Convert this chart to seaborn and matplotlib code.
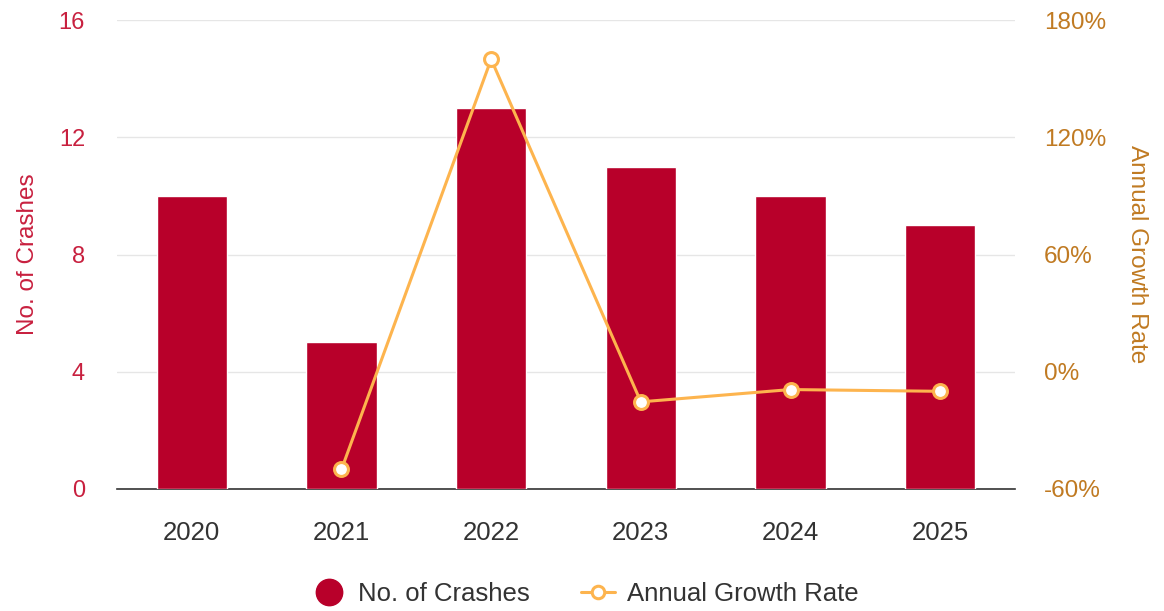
import pandas as pd
import seaborn as sns
import matplotlib.pyplot as plt
from matplotlib.lines import Line2D
from matplotlib.ticker import FuncFormatter

# Chart data
years = ["2020", "2021", "2022", "2023", "2024", "2025"]
crashes = [10, 5, 13, 11, 10, 9]
growth = [None, -50.0, 160.0, -15.4, -9.1, -10.0]

bar_color = "#B8002A"
left_color = "#C8203F"
right_color = "#C07A22"
line_color = "#FDB44E"

df = pd.DataFrame({"year": years, "crashes": crashes, "growth": growth})

sns.set_style("white")
plt.rcParams["font.family"] = ["Liberation Sans", "DejaVu Sans"]

fig = plt.figure(figsize=(11.64, 6.11), dpi=100)
ax = fig.add_axes([0.1005, 0.1997, 0.7715, 0.7673])

sns.barplot(data=df, x="year", y="crashes", color=bar_color, saturation=1,
            width=0.47, ax=ax, zorder=3)
ax.set_ylim(0, 16)
ax.set_yticks([0, 4, 8, 12, 16])
ax.grid(axis="y", color="#E6E6E6", linewidth=1, zorder=0)
ax.set_axisbelow(True)
ax.set_xlabel("")
ax.set_ylabel("No. of Crashes", color=left_color, fontsize=17.5, labelpad=14)
ax.tick_params(axis="y", colors=left_color, labelsize=17, length=0, pad=23)
ax.tick_params(axis="x", colors="#333333", labelsize=18.5, length=0, pad=23)
for s in ["top", "left", "right"]:
    ax.spines[s].set_visible(False)
ax.spines["bottom"].set_color("#333333")
ax.spines["bottom"].set_linewidth(1.2)

ax2 = ax.twinx()
gdf = df.dropna()
sns.lineplot(x=[years.index(y) for y in gdf["year"]], y=gdf["growth"], ax=ax2,
             color=line_color, linewidth=2.2, marker="o", markersize=10,
             markerfacecolor="white", markeredgecolor=line_color,
             markeredgewidth=2.2, zorder=5)
ax2.set_ylim(-60, 180)
ax2.set_yticks([-60, 0, 60, 120, 180])
ax2.yaxis.set_major_formatter(FuncFormatter(lambda v, p: f"{v:.0f}%"))
ax2.set_ylabel("Annual Growth Rate", color=right_color, fontsize=17.5,
               rotation=270, labelpad=30)
ax2.tick_params(axis="y", colors=right_color, labelsize=17.5, length=0, pad=21)
ax2.grid(False)
for s in ["top", "left", "right", "bottom"]:
    ax2.spines[s].set_visible(False)
ax.set_xlim(-0.5, len(years) - 0.5)

handles = [
    Line2D([], [], marker="o", linestyle="none", markersize=19,
           markerfacecolor=bar_color, markeredgecolor=bar_color),
    Line2D([], [], color=line_color, linewidth=2.2, marker="o", markersize=9,
           markerfacecolor="white", markeredgecolor=line_color, markeredgewidth=2.2),
]
fig.legend(handles, ["No. of Crashes", "Annual Growth Rate"],
           loc="center", bbox_to_anchor=(0.503, 0.028), ncol=2, frameon=False,
           fontsize=18.5, labelcolor="#333333", handlelength=1.3,
           columnspacing=2.0, handletextpad=0.5)

fig.savefig("out.png", dpi=100)
